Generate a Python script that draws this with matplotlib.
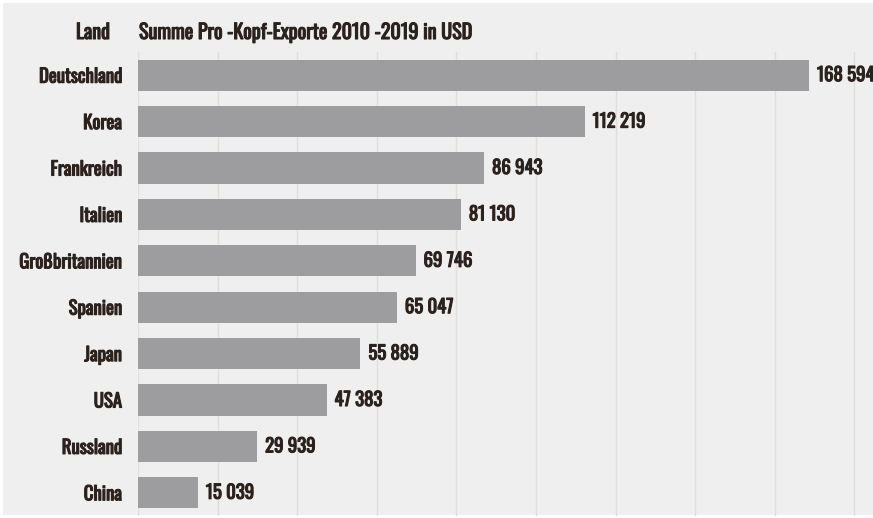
import matplotlib.pyplot as plt
import matplotlib.patheffects as pe
from matplotlib.patches import Rectangle

laender = ['Deutschland', 'Korea', 'Frankreich', 'Italien', 'Großbritannien',
           'Spanien', 'Japan', 'USA', 'Russland', 'China']
exporte = [168594, 112219, 86943, 81130, 69746, 65047, 55889, 47383, 29939, 15039]

font = ['Oswald', 'DejaVu Sans']
textfarbe = '#2b221d'
# Oswald ist nur in normaler Staerke da -> fett per Kontur
fett = [pe.withStroke(linewidth=0.8, foreground=textfarbe)]

fig = plt.figure(figsize=(8.73, 5.18), dpi=100, facecolor='white')
# hellgraues Panel
fig.patches.append(Rectangle((3/873, 3/518), 1, 1 - 6/518, transform=fig.transFigure,
                             facecolor='#efefef', edgecolor='none', zorder=-10))

ax = fig.add_axes([138/873, 2/518, 1 - 138/873, 1 - 54/518])
ax.set_facecolor('none')

y = list(range(len(laender)))
ax.barh(y, exporte, height=0.67, color='#9d9d9f', zorder=2)

for yi, v in zip(y, exporte):
    txt = f'{v:,}'.replace(',', ' ')
    ax.text(v + 2000, yi, txt, va='center', ha='left', fontsize=13.5,
            family=font, color=textfarbe, clip_on=False, path_effects=fett)

ax.set_xlim(0, 184670)
ax.set_ylim(len(laender) - 0.5, -0.5)
ax.set_xticks(range(0, 180001, 20000))
ax.xaxis.grid(True, color='#e2dfdb', linewidth=1, zorder=0)
ax.tick_params(axis='x', length=0, labelbottom=False)
ax.tick_params(axis='y', length=0, pad=11.5)
ax.set_yticks(y)
ax.set_yticklabels(laender, fontsize=13.5, family=font, color=textfarbe)
for lab in ax.get_yticklabels():
    lab.set_path_effects(fett)
for s in ax.spines.values():
    s.set_visible(False)

fig.text(110/873, 1 - 32/518, 'Land', ha='right', va='center', fontsize=14.5,
         family=font, color=textfarbe, path_effects=fett)
fig.text(139/873, 1 - 32/518, 'Summe Pro -Kopf-Exporte 2010 -2019 in USD', ha='left',
         va='center', fontsize=14.5, family=font, color=textfarbe, path_effects=fett)

fig.savefig('out.png', dpi=100, facecolor='white')
